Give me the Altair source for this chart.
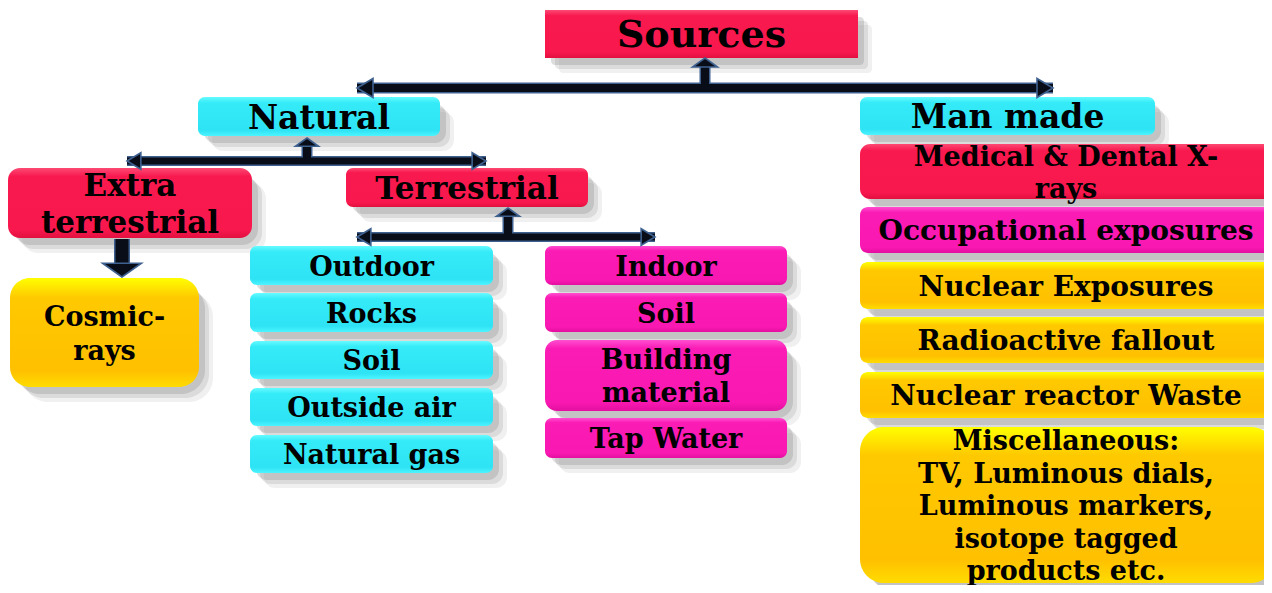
import altair as alt
import pandas as pd

# ---------------- data ----------------
labels = [
    "Sources", "Natural", "Man made", "Extra\nterrestrial", "Terrestrial",
    "Cosmic-\nrays",
    "Outdoor", "Rocks", "Soil", "Outside air", "Natural gas",
    "Indoor", "Soil", "Building\nmaterial", "Tap  Water",
    "Medical & Dental X-\nrays", "Occupational exposures", "Nuclear Exposures",
    "Radioactive fallout", "Nuclear reactor Waste",
    "Miscellaneous:\nTV, Luminous dials,\nLuminous markers,\nisotope tagged\nproducts etc.",
]
groups = [
    "red", "cyan", "cyan", "red", "red",
    "amber",
    "cyan", "cyan", "cyan", "cyan", "cyan",
    "magenta", "magenta", "magenta", "magenta",
    "red", "magenta", "amber", "amber", "amber", "amber",
]
box_left = [545, 198, 860, 8, 346, 10, 250, 250, 250, 250, 250,
            545, 545, 545, 545, 860, 860, 860, 860, 860, 860]
box_right = [858, 440, 1155, 252, 588, 199, 493, 493, 493, 493, 493,
             787, 787, 787, 787, 1275, 1275, 1275, 1275, 1275, 1275]
box_top = [10, 97, 97, 168, 168, 278, 246, 293, 341, 388, 435,
           246, 293, 340, 418, 144, 207, 262, 317, 372, 427]
box_bottom = [58, 136, 135, 238, 207, 387, 285, 332, 379, 426, 473,
              285, 332, 411, 458, 199, 253, 309, 363, 418, 583]
corner = [0, 7, 7, 12, 7, 20, 7, 7, 7, 7, 7,
          7, 7, 12, 7, 10, 8, 8, 8, 8, 24]
font_px = [38, 33, 33, 31, 31, 27, 27, 27, 27, 27, 27,
           27, 27, 27, 27, 27, 28, 28, 28, 28, 27]
line_gap = [0, 0, 0, 37, 0, 34, 0, 0, 0, 0, 0,
            0, 0, 33, 0, 32, 0, 0, 0, 0, 32.5]

# connector lines (horizontal bars and vertical stems)
seg_x1 = [357, 705, 127, 307, 357, 508, 122]
seg_x2 = [1053, 705, 486, 307, 655, 508, 122]
seg_y1 = [88, 88, 161, 161, 237, 237, 239]
seg_y2 = [88, 66, 161, 146, 237, 216, 264]
seg_w = [8, 8, 7, 8, 7, 8, 13]

# arrow heads (tip positions)
head_x = [357, 1053, 705, 127, 486, 307, 357, 655, 508, 122]
head_y = [88, 88, 58, 161, 161, 138, 237, 237, 208, 277]
head_dir = ["left", "right", "up", "left", "right", "up", "left", "right", "up", "down"]
head_size = [400, 400, 400, 300, 300, 340, 300, 300, 340, 1050]

# ---------------- frames ----------------
boxes = pd.DataFrame(dict(label=labels, grp=groups, x1=box_left, x2=box_right,
                          y1=box_top, y2=box_bottom, r=corner, fs=font_px, lh=line_gap))
boxes["xc"] = (boxes.x1 + boxes.x2.clip(upper=1272)) / 2
boxes["nl"] = boxes.label.str.count("\n") + 1
boxes["yt"] = (boxes.y1 + boxes.y2) / 2 - (boxes.nl - 1) * boxes.lh / 2 + 2
segs = pd.DataFrame(dict(x1=seg_x1, x2=seg_x2, y1=seg_y1, y2=seg_y2, w=seg_w))
heads = pd.DataFrame(dict(x=head_x, y=head_y, d=head_dir, s=head_size))

xs = alt.Scale(domain=[8, 1264], nice=False, zero=False)
ys = alt.Scale(domain=[8, 585], nice=False, zero=False, reverse=True)

def grad(stops):
    return alt.Gradient(gradient="linear", x1=0, x2=0, y1=0, y2=1,
                        stops=[alt.GradientStop(color=c, offset=o) for o, c in stops])

fills = {
    "red": grad([(0, "#fd4a74"), (0.12, "#f8194f"), (0.88, "#f8184e"), (1, "#e2103f")]),
    "magenta": grad([(0, "#ff4fd0"), (0.12, "#fb1bb5"), (0.88, "#f918b1"), (1, "#e30fa0")]),
    "cyan": grad([(0, "#66fbff"), (0.15, "#35ebf8"), (0.85, "#2ee3f4"), (1, "#4df4ff")]),
    "amber": grad([(0, "#ffff00"), (0.18, "#ffc900"), (0.85, "#ffc000"), (1, "#ffdc00")]),
}

layers = []

# soft drop shadows
for dx, dy, op in [(14, 15, 0.12), (10, 11, 0.2), (6, 7, 0.28)]:
    for r in sorted(set(corner)):
        layers.append(
            alt.Chart(boxes).transform_filter(alt.datum.r == r)
            .transform_calculate(sx1=f"datum.x1 + {dx}", sx2=f"datum.x2 + {dx}",
                                 sy1=f"datum.y1 + {dy}", sy2=f"datum.y2 + {dy}")
            .mark_rect(color="#858585", opacity=op, cornerRadius=r + 4)
            .encode(x=alt.X("sx1:Q", scale=xs, axis=None), x2="sx2:Q",
                    y=alt.Y("sy1:Q", scale=ys, axis=None), y2="sy2:Q")
        )

# boxes
for g, f in fills.items():
    for r in sorted(set(boxes[boxes.grp == g].r)):
        layers.append(
            alt.Chart(boxes).transform_filter((alt.datum.grp == g) & (alt.datum.r == r))
            .mark_rect(fill=f, cornerRadius=r)
            .encode(x=alt.X("x1:Q", scale=xs, axis=None), x2="x2:Q",
                    y=alt.Y("y1:Q", scale=ys, axis=None), y2="y2:Q")
        )

# connector outlines then cores
for col, extra in [("#3f6190", 3), ("#090d18", 0)]:
    layers.append(
        alt.Chart(segs).transform_calculate(ww=f"datum.w + {extra}")
        .mark_rule(color=col, strokeCap="butt")
        .encode(x=alt.X("x1:Q", scale=xs, axis=None), x2="x2:Q",
                y=alt.Y("y1:Q", scale=ys, axis=None), y2="y2:Q",
                strokeWidth=alt.StrokeWidth("ww:Q", scale=None))
    )

head_paths = {
    "left": "M0,0L1.6,-0.95L1.6,0.95Z",
    "right": "M0,0L-1.6,-0.95L-1.6,0.95Z",
    "up": "M0,0L1.25,0.9L-1.25,0.9Z",
    "down": "M0,0L-1.2,-0.85L1.2,-0.85Z",
}
layers.append(
    alt.Chart(heads)
    .mark_point(filled=True, fill="#090d18", stroke="#3f6190", strokeWidth=1.6, opacity=1)
    .encode(x=alt.X("x:Q", scale=xs, axis=None),
            y=alt.Y("y:Q", scale=ys, axis=None),
            shape=alt.Shape("d:N", scale=alt.Scale(domain=list(head_paths.keys()),
                                                  range=list(head_paths.values())),
                            legend=None),
            size=alt.Size("s:Q", scale=None))
)

# labels (one layer per line spacing)
for lh in sorted(set(line_gap)):
    layers.append(
        alt.Chart(boxes).transform_filter(alt.datum.lh == lh)
        .mark_text(font="DejaVu Serif", fontWeight="bold", color="#000000",
                   align="center", baseline="middle", lineBreak="\n",
                   lineHeight=lh if lh > 0 else 30)
        .encode(x=alt.X("xc:Q", scale=xs, axis=None),
                y=alt.Y("yt:Q", scale=ys, axis=None),
                text="label:N",
                size=alt.Size("fs:Q", scale=None))
    )

chart = alt.layer(*layers).properties(
    width=1256, height=577, padding=0,
    autosize=alt.AutoSizeParams(type="none"),
).configure_view(strokeWidth=0)

chart.save("out.html", embed_options={"renderer": "svg", "actions": False})
